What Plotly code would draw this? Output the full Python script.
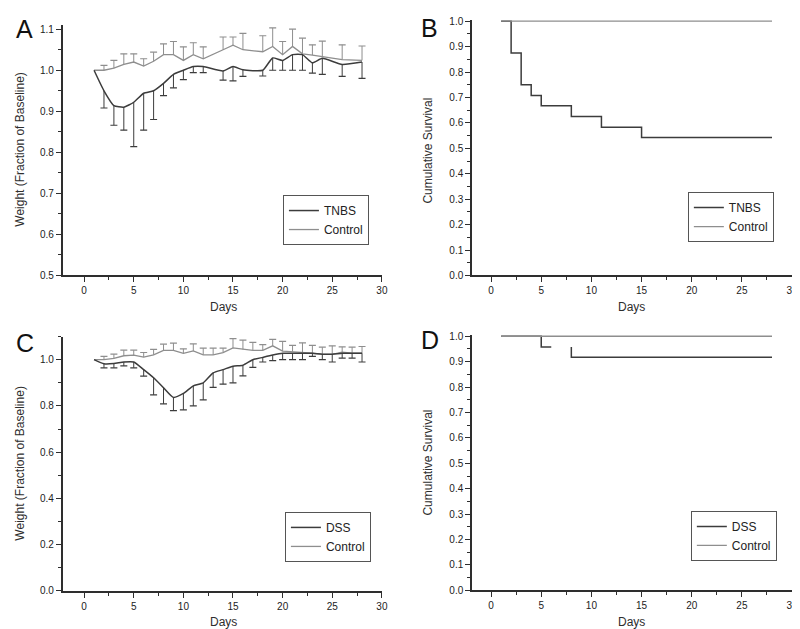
import plotly.graph_objects as go

# ---------------- data ----------------
days_A = [1, 2, 3, 4, 5, 6, 7, 8, 9, 10, 11, 12, 14, 15, 16, 18, 19, 20, 21, 22, 23, 24, 26, 28]
tnbs_w = [1.0, 0.95, 0.914, 0.91, 0.922, 0.944, 0.95, 0.968, 0.99, 1.0, 1.009, 1.009,
          0.998, 1.009, 1.001, 1.0, 1.03, 1.024, 1.038, 1.038, 1.018, 1.029, 1.014, 1.02]
tnbs_err = [0, 0.042, 0.048, 0.056, 0.108, 0.09, 0.07, 0.03, 0.033, 0.023, 0.015, 0.015,
            0.022, 0.035, 0.016, 0.014, 0.03, 0.024, 0.038, 0.038, 0.025, 0.039, 0.029, 0.04]
ctrlA_w = [1.0, 1.0, 1.005, 1.014, 1.02, 1.01, 1.022, 1.038, 1.038, 1.024, 1.038, 1.028,
           1.05, 1.061, 1.05, 1.045, 1.058, 1.038, 1.058, 1.04, 1.037, 1.033, 1.026, 1.024]
ctrlA_err = [0, 0.012, 0.019, 0.026, 0.02, 0.018, 0.022, 0.026, 0.032, 0.033, 0.029, 0.029,
             0.031, 0.02, 0.04, 0.039, 0.045, 0.032, 0.042, 0.038, 0.025, 0.038, 0.036, 0.035]

days_C = list(range(1, 29))
dss_w = [1.0, 0.982, 0.983, 0.99, 0.99, 0.957, 0.922, 0.879, 0.837, 0.854, 0.887, 0.90, 0.943, 0.957,
         0.972, 0.976, 1.0, 1.01, 1.02, 1.028, 1.028, 1.028, 1.028, 1.024, 1.024, 1.028, 1.028, 1.028]
dss_err = [0, 0.017, 0.018, 0.017, 0.025, 0.028, 0.074, 0.07, 0.057, 0.071, 0.087, 0.074, 0.063, 0.063,
           0.072, 0.046, 0.033, 0.02, 0.024, 0.028, 0.028, 0.028, 0.014, 0.024, 0.034, 0.021, 0.021, 0.038]
ctrlC_w = [1.0, 1.0, 1.006, 1.017, 1.02, 1.011, 1.021, 1.04, 1.04, 1.027, 1.038, 1.021, 1.021, 1.031,
           1.051, 1.044, 1.04, 1.04, 1.06, 1.037, 1.034, 1.033, 1.028, 1.023, 1.023, 1.033, 1.028, 1.028]
ctrlC_err = [0, 0.014, 0.018, 0.024, 0.021, 0.02, 0.024, 0.027, 0.032, 0.02, 0.03, 0.029, 0.029, 0.019,
             0.04, 0.041, 0.035, 0.025, 0.028, 0.042, 0.028, 0.04, 0.034, 0.031, 0.037, 0.022, 0.026, 0.029]

tnbs_surv_days = [1, 2, 3, 4, 5, 8, 11, 15, 28]
tnbs_surv = [1.0, 0.875, 0.75, 0.708, 0.667, 0.625, 0.583, 0.542, 0.542]
ctrl_surv_days = [1, 28]
ctrl_surv = [1.0, 1.0]
dss_surv_days = [1, 5, 6, None, 8, 8, 28]
dss_surv = [1.0, 0.958, 0.958, None, 0.958, 0.917, 0.917]

x_ticks = [0, 5, 10, 15, 20, 25, 30]

# ---------------- styles ----------------
DARK = "#3c3c3c"
LIGHT = "#8e8e8e"
AXIS = "#2e2e2e"
FONT = "Liberation Sans, Arial, sans-serif"

fig = go.Figure()


def err_traces(x, y, e, direction, color, xa, ya):
    xs, ys, cx, cy = [], [], [], []
    for xi, yi, ei in zip(x, y, e):
        if ei <= 0:
            continue
        end = yi + direction * ei
        xs += [xi, xi, None]
        ys += [yi, end, None]
        cx.append(xi)
        cy.append(end)
    fig.add_trace(go.Scatter(x=xs, y=ys, mode="lines", line=dict(color=color, width=1),
                             showlegend=False, hoverinfo="skip", xaxis=xa, yaxis=ya))
    fig.add_trace(go.Scatter(x=cx, y=cy, mode="markers",
                             marker=dict(symbol="line-ew", size=5, line=dict(color=color, width=1.2)),
                             showlegend=False, hoverinfo="skip", xaxis=xa, yaxis=ya))


# Panel A
err_traces(days_A, ctrlA_w, ctrlA_err, 1, LIGHT, "x", "y")
err_traces(days_A, tnbs_w, tnbs_err, -1, DARK, "x", "y")
fig.add_trace(go.Scatter(x=days_A, y=ctrlA_w, mode="lines", name="Control",
                         line=dict(color=LIGHT, width=1.3), legend="legend", legendrank=2,
                         xaxis="x", yaxis="y"))
fig.add_trace(go.Scatter(x=days_A, y=tnbs_w, mode="lines", name="TNBS",
                         line=dict(color=DARK, width=1.5, shape="spline", smoothing=0.5),
                         legend="legend", legendrank=1, xaxis="x", yaxis="y"))

# Panel B
fig.add_trace(go.Scatter(x=tnbs_surv_days, y=tnbs_surv, mode="lines", name="TNBS",
                         line=dict(color=DARK, width=1.5, shape="hv"),
                         legend="legend2", legendrank=1, xaxis="x2", yaxis="y2"))
fig.add_trace(go.Scatter(x=ctrl_surv_days, y=ctrl_surv, mode="lines", name="Control",
                         line=dict(color=LIGHT, width=1.3, shape="hv"),
                         legend="legend2", legendrank=2, xaxis="x2", yaxis="y2"))

# Panel C
err_traces(days_C, ctrlC_w, ctrlC_err, 1, LIGHT, "x3", "y3")
err_traces(days_C, dss_w, dss_err, -1, DARK, "x3", "y3")
fig.add_trace(go.Scatter(x=days_C, y=ctrlC_w, mode="lines", name="Control",
                         line=dict(color=LIGHT, width=1.3), legend="legend3", legendrank=2,
                         xaxis="x3", yaxis="y3"))
fig.add_trace(go.Scatter(x=days_C, y=dss_w, mode="lines", name="DSS",
                         line=dict(color=DARK, width=1.5, shape="spline", smoothing=0.5),
                         legend="legend3", legendrank=1, xaxis="x3", yaxis="y3"))

# Panel D
fig.add_trace(go.Scatter(x=dss_surv_days, y=dss_surv, mode="lines", name="DSS",
                         line=dict(color=DARK, width=1.5, shape="hv"),
                         legend="legend4", legendrank=1, xaxis="x4", yaxis="y4"))
fig.add_trace(go.Scatter(x=ctrl_surv_days, y=ctrl_surv, mode="lines", name="Control",
                         line=dict(color=LIGHT, width=1.3, shape="hv"),
                         legend="legend4", legendrank=2, xaxis="x4", yaxis="y4"))

W, H = 800, 629


def px_x(a, b):
    return [a / W, b / W]


def px_y(top, bottom):
    return [1 - bottom / H, 1 - top / H]


def xaxis(domain, rng, anchor):
    return dict(domain=domain, range=rng, anchor=anchor, showgrid=False, zeroline=False,
                showline=True, linecolor=AXIS, linewidth=1.5, ticks="outside", ticklen=5,
                tickwidth=1.2, tickcolor=AXIS, tickvals=x_ticks,
                minor=dict(ticks="outside", ticklen=3, tickwidth=1, tickcolor=AXIS, dtick=2.5, tick0=0),
                tickfont=dict(family=FONT, size=10, color="#222222"), fixedrange=True)


def yaxis(domain, rng, anchor, dtick, mdtick):
    return dict(domain=domain, range=rng, anchor=anchor, showgrid=False, zeroline=False,
                showline=True, linecolor=AXIS, linewidth=1.5, ticks="outside", ticklen=5,
                tickwidth=1.2, tickcolor=AXIS, dtick=dtick, tick0=0, tickformat=".1f",
                minor=dict(ticks="outside", ticklen=3, tickwidth=1, tickcolor=AXIS, dtick=mdtick, tick0=0),
                tickfont=dict(family=FONT, size=10, color="#222222"), fixedrange=True)


xl = px_x(55, 376.7)
xr = px_x(467.5, 790)

fig.update_layout(
    width=W, height=H, margin=dict(l=0, r=0, t=0, b=0),
    paper_bgcolor="white", plot_bgcolor="white",
    font=dict(family=FONT, color=AXIS),
    xaxis=xaxis(xl, [-2.17, 30], "y"),
    yaxis=yaxis(px_y(13.3, 267.7), [0.5, 1.11], "x", 0.1, 0.05),
    xaxis2=xaxis(xr, [-1.9, 30], "y2"),
    yaxis2=yaxis(px_y(8.0, 267.7), [0, 1.005], "x2", 0.1, 0.05),
    xaxis3=xaxis(xl, [-2.17, 30], "y3"),
    yaxis3=yaxis(px_y(329.8, 588.3), [0, 1.1], "x3", 0.2, 0.1),
    xaxis4=xaxis(xr, [-1.9, 30], "y4"),
    yaxis4=yaxis(px_y(328.2, 587.7), [0, 1.005], "x4", 0.1, 0.05),
)

leg_common = dict(bgcolor="white", bordercolor="#555555", borderwidth=1,
                  font=dict(family=FONT, size=12, color="#222222"),
                  xanchor="left", yanchor="top", tracegroupgap=0, itemwidth=30)
fig.update_layout(
    legend=dict(x=277 / W, y=1 - 186 / H, **leg_common),
    legend2=dict(x=685 / W, y=1 - 183 / H, **leg_common),
    legend3=dict(x=279 / W, y=1 - 508 / H, **leg_common),
    legend4=dict(x=688 / W, y=1 - 507 / H, **leg_common),
)

annotations = []
# panel letters
for txt, x, y in [("A", 17, 17), ("B", 425, 16), ("C", 17, 336), ("D", 425, 333)]:
    annotations.append(dict(text=txt, x=x / W, y=1 - y / H, xref="paper", yref="paper",
                            showarrow=False, font=dict(family=FONT, size=25, color="#111111"),
                            xanchor="center", yanchor="middle"))
# y titles
for txt, x, y in [("Weight (Fraction of Baseline)", 12, 139), ("Cumulative Survival", 423, 141),
                  ("Weight (Fraction of Baseline)", 12, 458), ("Cumulative Survival", 423, 458)]:
    annotations.append(dict(text=txt, x=x / W, y=1 - y / H, xref="paper", yref="paper",
                            showarrow=False, textangle=-90, font=dict(family=FONT, size=12, color=AXIS),
                            xanchor="center", yanchor="middle"))
# x titles
for x, y in [(217, 300), (628, 300), (217, 620), (628, 620)]:
    annotations.append(dict(text="Days", x=x / W, y=1 - y / H, xref="paper", yref="paper",
                            showarrow=False, font=dict(family=FONT, size=12, color=AXIS),
                            xanchor="center", yanchor="middle"))
fig.update_layout(annotations=annotations)

fig.write_html("out.html")
